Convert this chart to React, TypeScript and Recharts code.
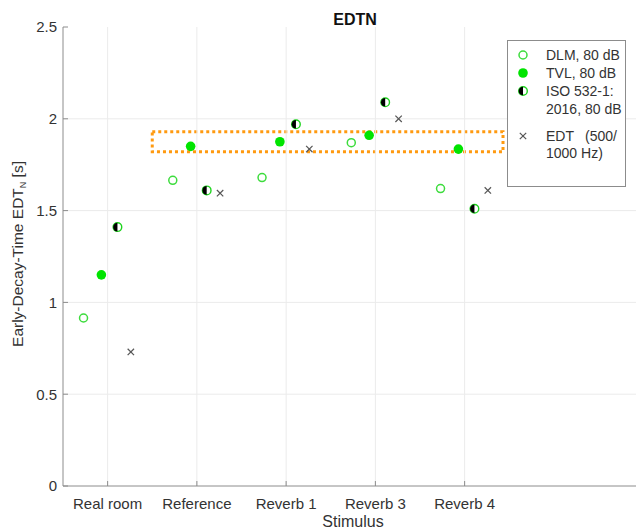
import React from "react";
import { ScatterChart, Scatter, XAxis, YAxis, ReferenceArea, ReferenceLine, Legend } from "recharts";

// stimuli on the x axis
const categories = ["Real room", "Reference", "Reverb 1", "Reverb 3", "Reverb 4"];

// EDT_N in seconds, one value per stimulus
const dlm = [0.915, 1.665, 1.68, 1.87, 1.62];
const tvl = [1.15, 1.85, 1.875, 1.91, 1.835];
const iso = [1.41, 1.61, 1.97, 2.09, 1.51];
const edt = [0.73, 1.595, 1.835, 2.0, 1.61];

const yTicks = [0, 0.5, 1, 1.5, 2, 2.5];
const xTicks = [1, 2, 3, 4, 5];

// dashed box around the ~1.85 s band
const highlight = { x1: 1.5, x2: 5.43, y1: 1.82, y2: 1.93 };

const FONT = "'Liberation Sans', Arial, sans-serif";
const TEXT = "#333";
const AXIS = "#8c8c8c";
const GRID = "#ebebeb";
// the axes run on past the right edge of the picture
const X_DOMAIN: [number, number] = [0.5, 6.92];
// inward tick length on the bottom axis, in y units (about 5px)
const TICK_LEN = 0.027;

const toPoints = (vals: number[], dodge: number) =>
  vals.map((y, i) => ({ x: i + 1 + dodge, y }));

const OpenDot = (p: any) => (
  <circle cx={p.cx} cy={p.cy} r={4} fill="#fff" stroke="#3ddc3d" strokeWidth={1.5} />
);
const FilledDot = (p: any) => <circle cx={p.cx} cy={p.cy} r={4.8} fill="#00e400" />;
const HalfDot = (p: any) => {
  const { cx, cy } = p;
  const r = 4.3;
  return (
    <g>
      <circle cx={cx} cy={cy} r={r} fill="#fff" stroke="#1fd41f" strokeWidth={1.4} />
      <path d={`M${cx},${cy - r} A${r},${r} 0 0 0 ${cx},${cy + r} Z`} fill="#000" />
    </g>
  );
};
const Cross = (p: any) => {
  const { cx, cy } = p;
  const s = 3.2;
  return (
    <g stroke="#555" strokeWidth={1.2}>
      <line x1={cx - s} y1={cy - s} x2={cx + s} y2={cy + s} />
      <line x1={cx - s} y1={cy + s} x2={cx + s} y2={cy - s} />
    </g>
  );
};

const YLabel = () => (
  <text
    x={23}
    y={254}
    transform="rotate(-90, 23, 254)"
    textAnchor="middle"
    fill={TEXT}
    fontSize={15.5}
    fontFamily={FONT}
  >
    Early-Decay-Time EDT
    <tspan fontSize={9} dy={3}>N</tspan>
    <tspan dy={-3}> [s]</tspan>
  </text>
);

const XLabel = () => (
  <text x={353} y={527} textAnchor="middle" fill={TEXT} fontSize={16} fontFamily={FONT}>
    Stimulus
  </text>
);

const LegendBox = () => {
  const row = (top: number, text: string, marker?: React.ReactNode) => (
    <div style={{ position: "absolute", top: top - 9, left: 0, width: "100%", height: 18 }}>
      {marker && (
        <svg width={20} height={18} style={{ position: "absolute", left: 5, top: 0 }}>
          {marker}
        </svg>
      )}
      <span style={{ position: "absolute", left: 38, lineHeight: "18px", whiteSpace: "pre" }}>{text}</span>
    </div>
  );
  return (
    <div
      style={{
        position: "relative",
        width: 119,
        height: 147,
        boxSizing: "border-box",
        border: `1px solid ${AXIS}`,
        background: "#fff",
        fontFamily: FONT,
        fontSize: 14,
        color: TEXT,
      }}
    >
      {row(14, "DLM, 80 dB", <OpenDot cx={10} cy={9} />)}
      {row(32, "TVL, 80 dB", <FilledDot cx={10} cy={9} />)}
      {row(50, "ISO 532-1:", <HalfDot cx={10} cy={9} />)}
      {row(68, "2016, 80 dB")}
      {row(95, "EDT", <Cross cx={10} cy={9} />)}
      <span style={{ position: "absolute", top: 86, right: 8, lineHeight: "18px" }}>(500/</span>
      {row(112, "1000 Hz)")}
    </div>
  );
};

export default function App() {
  return (
    <div style={{ position: "fixed", left: 0, top: 0, width: 636, height: 532, background: "#fff" }}>
      <ScatterChart width={636} height={532} margin={{ top: 27, right: 0, left: 0, bottom: 0 }}>
        {yTicks.slice(1, -1).map((t) => (
          <ReferenceLine key={`y${t}`} y={t} stroke={GRID} />
        ))}
        {xTicks.map((t) => (
          <ReferenceLine key={`x${t}`} x={t} stroke={GRID} />
        ))}
        {/* bottom frame line and its inward ticks */}
        <ReferenceLine y={0} stroke={AXIS} />
        {xTicks.map((t) => (
          <ReferenceLine
            key={`t${t}`}
            segment={[{ x: t, y: 0 }, { x: t, y: TICK_LEN }]}
            stroke={AXIS}
          />
        ))}
        <XAxis
          type="number"
          dataKey="x"
          domain={X_DOMAIN}
          ticks={xTicks}
          interval={0}
          allowDataOverflow
          tickFormatter={(v: number) => categories[v - 1] ?? ""}
          height={46}
          axisLine={false}
          tickLine={false}
          tickSize={0}
          tickMargin={12}
          stroke="#fff"
          tick={{ fill: TEXT, fontSize: 15, fontFamily: FONT }}
          label={<XLabel />}
        />
        <XAxis
          xAxisId="top"
          orientation="top"
          type="number"
          domain={X_DOMAIN}
          ticks={xTicks}
          interval={0}
          allowDataOverflow
          height={0}
          tickSize={-5}
          tick={false}
          stroke={AXIS}
        />
        <YAxis
          type="number"
          dataKey="y"
          domain={[0, 2.5]}
          ticks={yTicks}
          interval={0}
          allowDataOverflow
          width={63}
          tickSize={-5}
          tickMargin={11}
          stroke={AXIS}
          tick={{ fill: TEXT, fontSize: 15, fontFamily: FONT }}
          label={<YLabel />}
        />
        <ReferenceArea
          x1={highlight.x1}
          x2={highlight.x2}
          y1={highlight.y1}
          y2={highlight.y2}
          fill="none"
          fillOpacity={0}
          stroke="#ff9a10"
          strokeWidth={3}
          strokeDasharray="3 3"
          ifOverflow="visible"
        />
        <Scatter name="DLM, 80 dB" data={toPoints(dlm, -0.27)} shape={OpenDot} isAnimationActive={false} />
        <Scatter name="TVL, 80 dB" data={toPoints(tvl, -0.07)} shape={FilledDot} isAnimationActive={false} />
        <Scatter name="ISO 532-1: 2016, 80 dB" data={toPoints(iso, 0.11)} shape={HalfDot} isAnimationActive={false} />
        <Scatter name="EDT (500/1000 Hz)" data={toPoints(edt, 0.26)} shape={Cross} isAnimationActive={false} />
        <Legend
          layout="horizontal"
          verticalAlign="middle"
          align="center"
          content={() => <LegendBox />}
          wrapperStyle={{ top: 40, left: 507, width: 119, height: 147 }}
        />
        <text x={355} y={19} textAnchor="middle" dominantBaseline="central" fontSize={16} fontWeight="bold" fill="#111" fontFamily={FONT}>
          EDTN
        </text>
      </ScatterChart>
    </div>
  );
}
